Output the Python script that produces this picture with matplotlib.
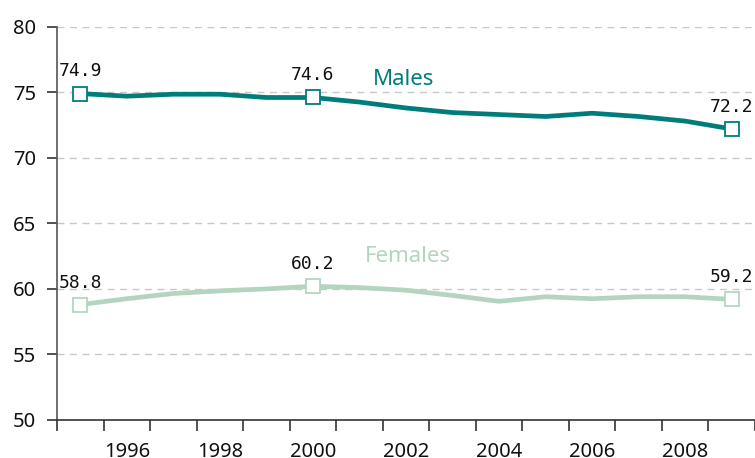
import matplotlib.pyplot as plt
import numpy as np

# data
years = list(range(1995, 2010))
males = [74.9, 74.7, 74.85, 74.85, 74.6, 74.6, 74.25, 73.8, 73.45, 73.3, 73.15, 73.4, 73.15, 72.8, 72.2]
females = [58.8, 59.25, 59.65, 59.85, 60.0, 60.2, 60.1, 59.9, 59.5, 59.05, 59.4, 59.25, 59.4, 59.4, 59.2]
label_years = [1995, 2000, 2009]
tick_years = list(range(1996, 2010, 2))

male_col = '#007d7a'
female_col = '#b3d5c0'

fig = plt.figure(figsize=(7.55, 4.58), dpi=100)
ax = fig.add_axes([0.0755, 0.083, 0.9245, 0.8587])

for vals, col in [(males, male_col), (females, female_col)]:
    ax.plot(years, vals, color=col, lw=3.4, solid_joinstyle='round', zorder=3)
    idx = [years.index(y) for y in label_years]
    ax.plot([years[i] for i in idx], [vals[i] for i in idx], ls='none', marker='s',
            ms=9.5, mfc='white', mec=col, mew=1.3, zorder=4)
    for i in idx:
        ax.text(years[i], vals[i] + 1.0, f'{vals[i]:.1f}', ha='center', va='bottom',
                fontsize=13, family='DejaVu Sans Mono', color='#111111')

ax.text(2001.95, 75.95, 'Males', color=male_col, fontsize=16, ha='center', va='center',
        family='Noto Sans', weight='medium')
ax.text(2002.05, 62.45, 'Females', color=female_col, fontsize=16, ha='center', va='center',
        family='Noto Sans', weight='medium')

ax.set_ylim(50, 80)
ax.set_xlim(1994.5, 2009.46)
ax.set_yticks(range(50, 81, 5))
ax.set_xticks(tick_years)
ax.set_xticklabels([str(y) for y in tick_years])
ax.set_xticks(np.arange(1994.5, 2009.6, 1), minor=True)
ax.tick_params(axis='x', which='major', length=0, pad=16)
ax.tick_params(axis='x', which='minor', length=8, width=1.2, color='#333333')
ax.tick_params(axis='y', length=7, width=1.2, color='#333333', pad=8)
for lab in ax.get_xticklabels() + ax.get_yticklabels():
    lab.set_fontsize(14.5)
    lab.set_family('Noto Sans')
    lab.set_color('#111111')

ax.grid(axis='y', ls=(0, (5, 4)), color='#c8c8c8', lw=1)
ax.set_axisbelow(True)
for s in ['top', 'right']:
    ax.spines[s].set_visible(False)
ax.spines['left'].set_color('#555555')
ax.spines['bottom'].set_color('#333333')
ax.spines['left'].set_linewidth(1.2)
ax.spines['bottom'].set_linewidth(1.2)

fig.savefig('out.png', dpi=100)
